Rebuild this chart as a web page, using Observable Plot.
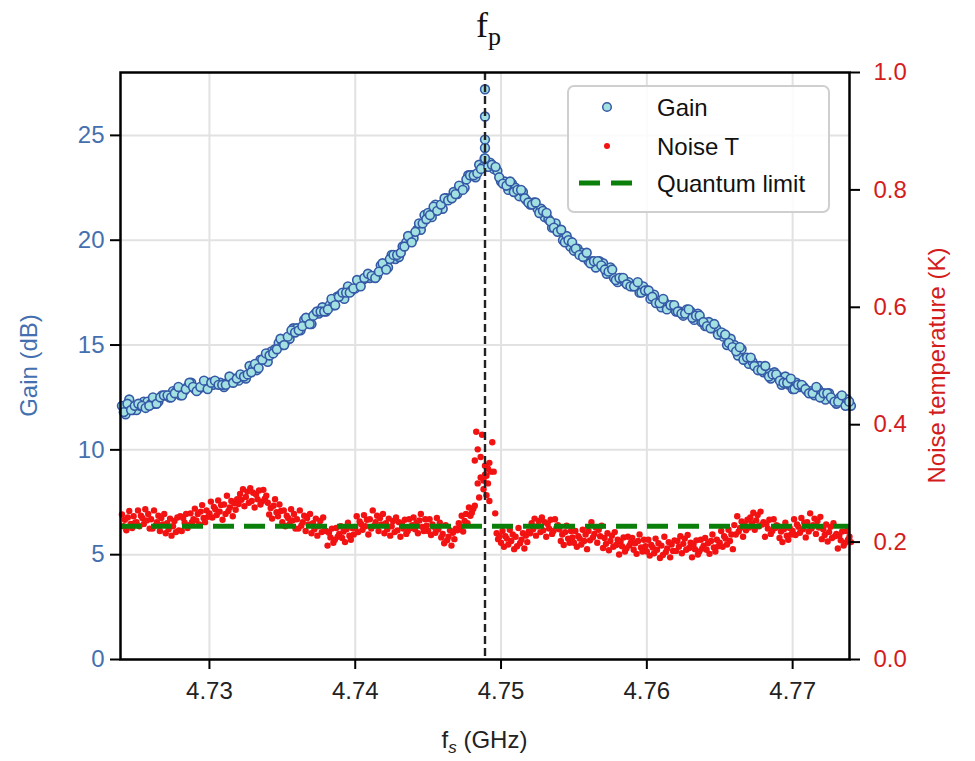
<!DOCTYPE html>
<html>
<head>
<meta charset="utf-8">
<script src="https://cdn.jsdelivr.net/npm/d3@7"></script>
<script src="https://cdn.jsdelivr.net/npm/@observablehq/plot@0.6"></script>
<style>
  html, body { margin: 0; padding: 0; background: #fff; }
  #chart { width: 975px; height: 761px; }
</style>
</head>
<body>
<div id="chart"></div>
<script>
// ---------------- data ----------------
// signal frequency sweep (GHz): two interleaved gain sweeps every 0.25 MHz, noise every 0.1 MHz
const gainFreqStart = 4.724, gainFreqStep = 0.00025;
const gainFreqStartB = 4.724125;
const noiseFreqStart = 4.724, noiseFreqStep = 0.0001;

// Gain (dB), sweep A
const gainValues = [
  12.1,11.7,12.4,11.9, 11.9,12.1,12.3,12.3, 12.2,12.2,12.3,12.6,
  12.6,12.5,12.8,12.8, 12.6,12.8,13.0,13.2, 12.9,12.9,13.0,13.2,
  13.2,13.1,13.2,13.2, 13.0,13.2,13.4,13.4, 13.3,13.5,13.4,14.0,
  13.9,13.8,14.3,14.3, 14.2,14.7,14.8,15.1, 15.0,15.2,15.3,15.8,
  15.8,15.7,16.2,16.1, 16.0,16.5,16.5,16.8, 16.6,16.9,16.9,17.3,
  17.4,17.2,17.8,17.6, 17.7,18.0,18.1,18.2, 18.2,18.3,18.3,18.8,
  18.8,18.7,19.3,19.1, 19.2,19.7,19.9,20.1, 20.1,20.5,20.5,21.2,
  21.3,21.1,21.7,21.5, 21.5,22.0,22.0,22.3, 22.2,22.5,22.5,23.1,
  23.1,23.0,23.6,23.5, 23.5,23.7,23.4,23.3, 22.8,22.8,22.4,22.7,
  22.5,22.1,22.3,21.9, 21.7,21.8,21.5,21.5, 21.1,21.0,20.6,20.8,
  20.5,20.0,20.2,19.7, 19.5,19.6,19.4,19.3, 19.0,19.0,18.7,19.0,
  18.9,18.4,18.7,18.2, 18.0,18.2,18.0,18.0, 17.8,17.8,17.5,17.8,
  17.6,17.2,17.4,17.0, 16.8,17.0,16.8,16.9, 16.6,16.6,16.4,16.7,
  16.6,16.2,16.5,16.1, 15.9,16.1,15.8,15.8, 15.5,15.4,15.0,15.3,
  15.0,14.5,14.8,14.3, 14.1,14.2,14.0,14.0, 13.7,13.7,13.4,13.7,
  13.5,13.1,13.5,13.1, 12.9,13.2,13.0,13.0, 12.8,12.8,12.6,12.9,
  12.7,12.4,12.7,12.4, 12.2,12.5,12.3,12.4, 12.1
];
// Gain (dB), sweep B (offset by half a step)
const gainValuesB = [
  11.8,12.2,11.9,12.1, 12.2,12.1,12.0,12.1, 12.5,12.2,12.5,12.6,
  12.6,12.5,12.7,13.0, 12.6,12.9,13.2,13.0, 12.8,13.0,13.3,12.9,
  13.2,13.3,13.1,13.1, 13.1,13.5,13.2,13.4, 13.6,13.5,13.6,13.7,
  14.1,13.9,14.3,14.6, 14.5,14.6,14.8,15.3, 15.0,15.4,15.7,15.6,
  15.7,15.9,16.3,16.0, 16.4,16.6,16.6,16.6, 16.7,17.2,16.9,17.3,
  17.5,17.5,17.5,17.7, 18.1,17.8,18.2,18.4, 18.3,18.2,18.5,18.9,
  18.6,19.1,19.3,19.3, 19.4,19.7,20.2,19.9, 20.4,20.8,20.8,21.0,
  21.2,21.6,21.4,21.7, 22.0,21.9,22.0,22.2, 22.6,22.4,22.9,23.1,
  23.1,23.2,23.4,23.9, 23.5,23.6,23.5,23.0, 22.7,22.6,22.8,22.3,
  22.4,22.4,22.0,21.8, 21.7,21.8,21.3,21.4, 21.3,20.9,20.6,20.4,
  20.5,19.9,20.0,19.9, 19.6,19.3,19.2,19.4, 18.9,19.0,19.0,18.8,
  18.6,18.5,18.6,18.1, 18.2,18.2,17.9,17.8, 17.8,18.0,17.5,17.6,
  17.6,17.3,17.0,17.0, 17.2,16.7,16.9,16.9, 16.6,16.5,16.5,16.7,
  16.3,16.4,16.4,16.1, 15.9,15.8,16.0,15.5, 15.6,15.5,15.1,14.9,
  14.7,14.9,14.3,14.4, 14.4,14.0,13.8,13.8, 14.0,13.5,13.6,13.6,
  13.3,13.2,13.2,13.4, 12.9,13.1,13.1,12.9, 12.7,12.7,13.0,12.5,
  12.7,12.7,12.5,12.3, 12.3,12.6,12.1,12.3
];
// extra gain readings stacked at the pump frequency
const gainPeakFreqs = [4.7489, 4.7489, 4.7489, 4.7489, 4.7489];
const gainPeakValues = [27.2, 25.9, 24.8, 24.4, 23.9];

// Noise temperature (K)
const noiseValues = [
  0.247,0.227,0.238,0.220,0.242,0.253,0.231,0.224,0.244,0.233,
  0.234,0.254,0.227,0.245,0.241,0.231,0.256,0.237,0.248,0.223,
  0.239,0.223,0.254,0.228,0.234,0.245,0.219,0.241,0.230,0.248,
  0.215,0.232,0.222,0.240,0.211,0.227,0.236,0.217,0.242,0.220,
  0.244,0.219,0.241,0.233,0.248,0.224,0.229,0.249,0.234,0.239,
  0.257,0.237,0.248,0.230,0.252,0.263,0.241,0.234,0.254,0.243,
  0.249,0.269,0.242,0.260,0.256,0.246,0.271,0.252,0.263,0.238,
  0.264,0.248,0.279,0.253,0.259,0.270,0.244,0.266,0.255,0.273,
  0.265,0.282,0.272,0.290,0.261,0.277,0.286,0.267,0.292,0.270,
  0.284,0.259,0.281,0.273,0.288,0.264,0.269,0.289,0.274,0.279,
  0.267,0.247,0.258,0.240,0.262,0.273,0.251,0.244,0.264,0.253,
  0.234,0.254,0.227,0.245,0.241,0.231,0.256,0.237,0.248,0.223,
  0.239,0.223,0.254,0.228,0.234,0.245,0.219,0.241,0.230,0.248,
  0.215,0.232,0.222,0.240,0.211,0.227,0.236,0.217,0.242,0.220,
  0.219,0.194,0.216,0.208,0.223,0.199,0.204,0.224,0.209,0.214,
  0.227,0.207,0.218,0.200,0.222,0.233,0.211,0.204,0.224,0.213,
  0.224,0.244,0.217,0.235,0.231,0.221,0.246,0.227,0.238,0.213,
  0.239,0.223,0.254,0.228,0.234,0.245,0.219,0.241,0.230,0.248,
  0.215,0.232,0.222,0.240,0.211,0.227,0.236,0.217,0.242,0.220,
  0.234,0.209,0.231,0.223,0.238,0.214,0.219,0.239,0.224,0.229,
  0.242,0.222,0.233,0.215,0.237,0.248,0.226,0.219,0.239,0.228,
  0.219,0.239,0.212,0.230,0.226,0.216,0.241,0.222,0.233,0.208,
  0.214,0.198,0.229,0.203,0.209,0.220,0.194,0.216,0.205,0.223,
  0.220,0.232,0.225,0.245,0.218,0.236,0.248,0.232,0.259,0.245,
  0.250,0.257,0.339,0.388,0.358,0.276,0.310,0.383,0.305,0.330,
  0.313,0.300,0.270,0.320,0.370,0.320,0.249,0.215,0.205,0.210,
  0.199,0.219,0.192,0.210,0.206,0.196,0.221,0.202,0.213,0.188,
  0.209,0.193,0.224,0.198,0.204,0.215,0.189,0.211,0.200,0.218,
  0.215,0.232,0.222,0.240,0.211,0.227,0.236,0.217,0.242,0.220,
  0.234,0.209,0.231,0.223,0.238,0.214,0.219,0.239,0.224,0.229,
  0.222,0.202,0.213,0.195,0.217,0.228,0.206,0.199,0.219,0.208,
  0.199,0.219,0.192,0.210,0.206,0.196,0.221,0.202,0.213,0.188,
  0.219,0.203,0.234,0.208,0.214,0.225,0.199,0.221,0.210,0.228,
  0.190,0.207,0.197,0.215,0.186,0.202,0.211,0.192,0.217,0.195,
  0.204,0.179,0.201,0.193,0.208,0.184,0.189,0.209,0.194,0.199,
  0.207,0.187,0.198,0.180,0.202,0.213,0.191,0.184,0.204,0.193,
  0.184,0.204,0.177,0.195,0.191,0.181,0.206,0.187,0.198,0.173,
  0.194,0.178,0.209,0.183,0.189,0.200,0.174,0.196,0.185,0.203,
  0.185,0.202,0.192,0.210,0.181,0.197,0.206,0.187,0.212,0.190,
  0.199,0.174,0.196,0.188,0.203,0.179,0.184,0.204,0.189,0.194,
  0.207,0.187,0.198,0.180,0.202,0.213,0.191,0.184,0.204,0.193,
  0.199,0.219,0.192,0.210,0.206,0.196,0.221,0.202,0.213,0.188,
  0.229,0.213,0.244,0.218,0.224,0.235,0.209,0.231,0.220,0.238,
  0.225,0.242,0.232,0.250,0.221,0.237,0.246,0.227,0.252,0.230,
  0.234,0.209,0.231,0.223,0.238,0.214,0.219,0.239,0.224,0.229,
  0.227,0.207,0.218,0.200,0.222,0.233,0.211,0.204,0.224,0.213,
  0.219,0.239,0.212,0.230,0.226,0.216,0.241,0.222,0.233,0.208,
  0.234,0.218,0.249,0.223,0.229,0.240,0.214,0.236,0.225,0.243,
  0.205,0.222,0.212,0.230,0.201,0.217,0.226,0.207,0.232,0.210,
  0.214,0.189,0.211,0.203,0.218,0.194,0.199,0.219,0.204,0.209,
  0.200
];
// extra noise readings in the pump region
const noisePeakFreqs  = [4.7482, 4.7484, 4.7486, 4.7488, 4.7489, 4.7490, 4.7491, 4.7492];
const noisePeakValues = [0.262, 0.300, 0.345, 0.290, 0.315, 0.280, 0.325, 0.335];

const pumpFreq = 4.7489;        // f_p (GHz)
const quantumLimit = 0.227;     // K

const xTicks = [4.73, 4.74, 4.75, 4.76, 4.77];
const gainTicks = [0, 5, 10, 15, 20, 25];
const noiseTicks = [0.0, 0.2, 0.4, 0.6, 0.8, 1.0];

const gainDomain = [0, 28];
const noiseDomain = [0, 1];
const xDomain = [4.7239, 4.7739];

// ---------------- build ----------------
const dBperK = (gainDomain[1] - gainDomain[0]) / (noiseDomain[1] - noiseDomain[0]);

const gainData = gainValues.map((g, i) => ({f: gainFreqStart + i * gainFreqStep, g}))
  .concat(gainValuesB.map((g, i) => ({f: gainFreqStartB + i * gainFreqStep, g})))
  .concat(gainPeakFreqs.map((f, i) => ({f, g: gainPeakValues[i]})));
const noiseData = noiseValues.map((t, i) => ({f: noiseFreqStart + i * noiseFreqStep, t}))
  .concat(noisePeakFreqs.map((f, i) => ({f, t: noisePeakValues[i]})));

const BLUE = "#4470b0", RED = "#d41c1c", GREEN = "#0a800a";
const GAIN_FILL = "#a3e0e2", GAIN_STROKE = "#3559a6", NOISE_FILL = "#f21212";
const FONT = "'Liberation Sans', Arial, Helvetica, sans-serif";

const chart = Plot.plot({
  width: 975,
  height: 761,
  marginLeft: 120,
  marginRight: 126,
  marginTop: 72,
  marginBottom: 102,
  style: {fontFamily: FONT, fontSize: "24px", background: "white", overflow: "visible"},
  x: {domain: xDomain},
  y: {domain: gainDomain},
  marks: [
    Plot.gridX(xTicks, {stroke: "#e2e2e2", strokeOpacity: 1, strokeWidth: 2}),
    Plot.gridY(gainTicks, {stroke: "#e2e2e2", strokeOpacity: 1, strokeWidth: 2}),
    Plot.dot(gainData, {x: "f", y: "g", r: 4.4, fill: GAIN_FILL, stroke: GAIN_STROKE, strokeWidth: 1.6}),
    Plot.dot(noiseData, {x: "f", y: d => d.t * dBperK, r: 3.2, fill: NOISE_FILL, stroke: "none"}),
    Plot.ruleY([quantumLimit * dBperK], {stroke: GREEN, strokeWidth: 5, strokeDasharray: "21,10"}),
    Plot.ruleX([pumpFreq], {stroke: "#222", strokeWidth: 2.4, strokeDasharray: "8,4"}),
    Plot.frame({stroke: "black", strokeWidth: 2.5}),
    Plot.axisX(xTicks, {tickSize: 10, tickPadding: 12, tickFormat: d3.format(".2f"), label: null,
      stroke: "black", strokeWidth: 2, fill: "#222"}),
    Plot.axisY(gainTicks, {anchor: "left", tickSize: 10, tickPadding: 6, label: null,
      stroke: "black", strokeWidth: 2, fill: BLUE}),
    Plot.axisY(noiseTicks.map(t => t * dBperK), {anchor: "right", tickSize: 10, tickPadding: 14, label: null,
      tickFormat: d => (d / dBperK).toFixed(1), stroke: "black", strokeWidth: 2, fill: RED})
  ]
});

document.getElementById("chart").appendChild(chart);

// ---------------- titles & legend ----------------
const svg = d3.select(chart);
const plotL = 120, plotR = 975 - 126, plotT = 72, plotB = 761 - 102;
const midX = (plotL + plotR) / 2, midY = (plotT + plotB) / 2;

// title f_p
const title = svg.append("text")
  .attr("x", midX + 4).attr("y", 37)
  .attr("text-anchor", "middle")
  .attr("font-family", "'Liberation Serif', 'DejaVu Serif', serif")
  .attr("font-size", 36).attr("fill", "#111");
title.append("tspan").text("f");
title.append("tspan").attr("font-size", 26).attr("dy", 8).text("p");

// x label
const xl = svg.append("text")
  .attr("x", midX).attr("y", 748)
  .attr("text-anchor", "middle")
  .attr("font-family", FONT).attr("font-size", 24).attr("fill", "#222");
xl.append("tspan").text("f");
xl.append("tspan").attr("font-size", 17).attr("font-style", "italic").attr("dy", 5).text("s");
xl.append("tspan").attr("dy", -5).text(" (GHz)");

// left y label
svg.append("text")
  .attr("transform", `translate(37,${midY}) rotate(-90)`)
  .attr("text-anchor", "middle")
  .attr("font-family", FONT).attr("font-size", 24).attr("fill", BLUE)
  .text("Gain (dB)");

// right y label
svg.append("text")
  .attr("transform", `translate(945,${midY}) rotate(-90)`)
  .attr("text-anchor", "middle")
  .attr("font-family", FONT).attr("font-size", 24).attr("fill", RED)
  .text("Noise temperature (K)");

// legend
const lg = svg.append("g").attr("font-family", FONT).attr("font-size", 24).attr("fill", "#111");
lg.append("rect").attr("x", 568).attr("y", 86).attr("width", 261).attr("height", 126)
  .attr("rx", 6).attr("fill", "white").attr("fill-opacity", 0.85)
  .attr("stroke", "#cfcfcf").attr("stroke-width", 2);
lg.append("circle").attr("cx", 607).attr("cy", 107).attr("r", 4.3)
  .attr("fill", GAIN_FILL).attr("stroke", GAIN_STROKE).attr("stroke-width", 1.5);
lg.append("circle").attr("cx", 607).attr("cy", 146).attr("r", 3).attr("fill", NOISE_FILL);
lg.append("line").attr("x1", 579).attr("x2", 632).attr("y1", 183).attr("y2", 183)
  .attr("stroke", GREEN).attr("stroke-width", 5).attr("stroke-dasharray", "21,11");
lg.append("text").attr("x", 657).attr("y", 116).attr("text-anchor", "start").text("Gain");
lg.append("text").attr("x", 657).attr("y", 155).attr("text-anchor", "start").text("Noise T");
lg.append("text").attr("x", 657).attr("y", 192).attr("text-anchor", "start").text("Quantum limit");
</script>
</body>
</html>
